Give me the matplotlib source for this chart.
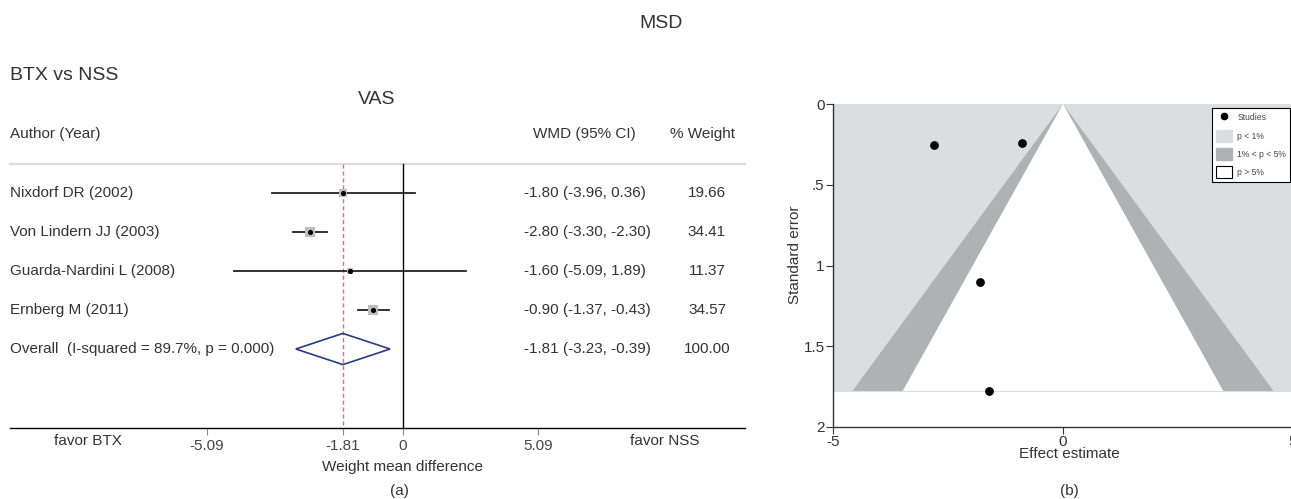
import matplotlib
matplotlib.use("Agg")
import matplotlib.pyplot as plt
from matplotlib.lines import Line2D
from matplotlib.patches import Patch, Polygon

plt.rcParams["font.family"] = ["Liberation Sans", "DejaVu Sans"]

# ---- data ----
studies = ["Nixdorf DR (2002)", "Von Lindern JJ (2003)",
           "Guarda-Nardini L (2008)", "Ernberg M (2011)"]
wmd = [-1.80, -2.80, -1.60, -0.90]
ci_lo = [-3.96, -3.30, -5.09, -1.37]
ci_hi = [0.36, -2.30, 1.89, -0.43]
weights = [19.66, 34.41, 11.37, 34.57]
overall = -1.81
overall_lo, overall_hi = -3.23, -0.39
overall_weight = 100.00
overall_label = "Overall  (I-squared = 89.7%, p = 0.000)"
se = [1.10, 0.255, 1.78, 0.24]

forest_ticks = [-5.90, -1.81, 0, 4.07]  # where the labels sit in the original
forest_ticklabels = ["-5.09", "-1.81", "0", "5.09"]

W, H = 1291, 499
fig = plt.figure(figsize=(W / 100, H / 100), dpi=100)
txt = "#333333"


def px(x, y):
    return x / W, 1 - y / H


# ---------------- (a) forest plot ----------------
scale, x0 = 33.2, 403          # px per unit, px of zero
row0, dy = 193, 39             # px of first row, px per row
left_px, right_px, top_px, bot_px = 10, 745, 60, 428
ax = fig.add_axes([left_px / W, 1 - bot_px / H,
                   (right_px - left_px) / W, (bot_px - top_px) / H])
xl, xr = (left_px - x0) / scale, (right_px - x0) / scale
ax.set_xlim(xl, xr)
ax.set_ylim((bot_px - row0) / dy + 1, (top_px - row0) / dy + 1)
for s in ["top", "right", "left"]:
    ax.spines[s].set_visible(False)
ax.spines["bottom"].set_linewidth(1.0)
ax.set_yticks([])
ax.set_xticks(forest_ticks)
ax.set_xticklabels(forest_ticklabels)
ax.tick_params(axis="x", direction="out", length=5, color="#888888",
               labelcolor="#444444", labelsize=11, pad=3)


def yrow(p):
    return (p - row0) / dy + 1


y_sep = yrow(164)
y_head = yrow(134)
ybot = ax.get_ylim()[0]

ax.plot([xl, xr], [y_sep, y_sep], color="#dcdcdc", lw=1.6, clip_on=False)
ax.plot([0, 0], [y_sep, ybot], color="black", lw=1.0)
ax.plot([overall, overall], [y_sep, ybot], color="#dc6f78", lw=1.0,
        ls=(0, (3, 2)))

x_wmd = (524 - x0) / scale
x_wt = (707 - x0) / scale
ax.text(xl, y_head, "Author (Year)", ha="left", va="center", fontsize=11, color=txt)
ax.text((533 - x0) / scale, y_head, "WMD (95% CI)", ha="left", va="center",
        fontsize=11, color=txt)
ax.text((702 - x0) / scale, y_head, "% Weight", ha="center", va="center",
        fontsize=11, color=txt)

for i, name in enumerate(studies):
    y = i + 1
    ax.plot([ci_lo[i], ci_hi[i]], [y, y], color="#222222", lw=1.3)
    ax.scatter(wmd[i], y, marker="s", s=1.5 * weights[i], color="#bdbdbd",
               zorder=3, linewidths=0)
    ax.scatter(wmd[i], y, marker="o", s=7, color="black", zorder=4)
    ax.text(xl, y, name, ha="left", va="center", fontsize=11, color=txt)
    ax.text(x_wmd, y, f"{wmd[i]:.2f} ({ci_lo[i]:.2f}, {ci_hi[i]:.2f})",
            ha="left", va="center", fontsize=11, color=txt)
    ax.text(x_wt, y, f"{weights[i]:.2f}", ha="center", va="center",
            fontsize=11, color=txt)

yo = len(studies) + 1
hh = 0.4
ax.add_patch(Polygon([[overall_lo, yo], [overall, yo - hh], [overall_hi, yo],
                      [overall, yo + hh]], closed=True, fill=False,
                     edgecolor="#2a3b85", lw=1.2, zorder=5))
ax.text(xl, yo, overall_label, ha="left", va="center", fontsize=11, color=txt)
ax.text(x_wmd, yo, f"{overall:.2f} ({overall_lo:.2f}, {overall_hi:.2f})",
        ha="left", va="center", fontsize=11, color=txt)
ax.text(x_wt, yo, f"{overall_weight:.2f}", ha="center", va="center",
        fontsize=11, color=txt)

ax.text((88 - x0) / scale, yrow(441), "favor BTX", ha="center", va="center",
        fontsize=11, color=txt, clip_on=False)
ax.text((665 - x0) / scale, yrow(441), "favor NSS", ha="center", va="center",
        fontsize=11, color=txt, clip_on=False)

fig.text(*px(661, 24), "MSD", ha="center", va="center", fontsize=14, color=txt)
fig.text(*px(10, 76), "BTX vs NSS", ha="left", va="center", fontsize=14, color=txt)
fig.text(*px(377, 100), "VAS", ha="center", va="center", fontsize=14, color=txt)
fig.text(*px(402, 467), "Weight mean difference", ha="center", va="center",
         fontsize=11, color=txt)
fig.text(*px(399, 491), "(a)", ha="center", va="center", fontsize=11, color=txt)

# ---------------- (b) funnel plot ----------------
ax2 = fig.add_axes([833 / W, 1 - 427 / H, 460 / W, 323 / H])
ax2.set_xlim(-5, 5)
ax2.set_ylim(2, 0)
m = max(se)
light, dark = "#dcdddf", "#b0b1b3"
ax2.fill_between([-5, 5], 0, m, color=light, lw=0, zorder=0)
for sgn in (-1, 1):
    ax2.add_patch(Polygon([[0, 0], [sgn * 2.576 * m, m], [sgn * 1.96 * m, m]],
                          closed=True, color=dark, lw=0, zorder=1))
ax2.add_patch(Polygon([[0, 0], [-1.96 * m, m], [1.96 * m, m]], closed=True,
                      color="white", lw=0, zorder=2))
ax2.axhline(m, color=light, lw=0.8, zorder=2)
ax2.scatter(wmd, se, s=28, color="black", zorder=4)

for s in ["top", "right"]:
    ax2.spines[s].set_visible(False)
for s in ["left", "bottom"]:
    ax2.spines[s].set_color("#333333")
    ax2.spines[s].set_linewidth(1.0)
ax2.set_yticks([0, 0.5, 1, 1.5, 2])
ax2.set_yticklabels(["0", ".5", "1", "1.5", "2"])
ax2.set_xticks([-5, 0, 5])
ax2.set_xticklabels(["-5", "0", "5"])
ax2.tick_params(direction="out", length=5, color="#333333",
                labelcolor="#333333", labelsize=11, pad=1)

handles = [Line2D([], [], marker="o", color="black", ls="none", markersize=4.5),
           Patch(facecolor=light, edgecolor=light),
           Patch(facecolor=dark, edgecolor=dark),
           Patch(facecolor="white", edgecolor="black", lw=0.8)]
leg = fig.legend(handles, ["Studies", "p < 1%", "1% < p < 5%", "p > 5%"],
                 loc="upper right", bbox_to_anchor=px(1290, 108),
                 bbox_transform=fig.transFigure, fontsize=6.2, frameon=True,
                 fancybox=False, edgecolor="black", framealpha=1,
                 handlelength=1.9, handleheight=1.7, labelspacing=0.75,
                 borderpad=0.45, handletextpad=0.6, borderaxespad=0)
leg.get_frame().set_linewidth(0.8)
for t in leg.get_texts():
    t.set_color("#444444")

fig.text(*px(795, 255), "Standard error", rotation=90, ha="center", va="center",
         fontsize=11, color=txt)
fig.text(*px(1069, 454), "Effect estimate", ha="center", va="center",
         fontsize=11, color=txt)
fig.text(*px(1069, 491), "(b)", ha="center", va="center", fontsize=11, color=txt)

fig.savefig("out.png", dpi=100, facecolor="white")
